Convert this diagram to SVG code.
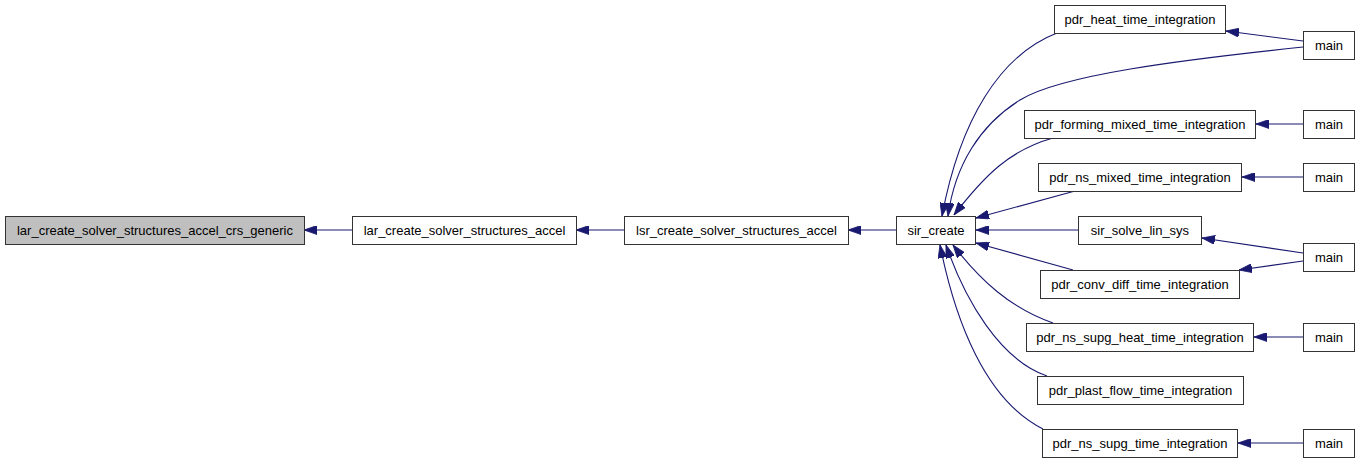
<svg xmlns="http://www.w3.org/2000/svg" width="1360" height="464" viewBox="0 0 1360 464">
<style>
.node rect{fill:#ffffff;stroke:#333333;stroke-width:1}
.node.hl rect{fill:#bfbfbf}
.node text{font-family:"Liberation Sans",Arial,Helvetica,sans-serif;font-size:13px;fill:#000000;text-anchor:middle}
.edges path{fill:none;stroke:#191970;stroke-width:1.1;marker-end:url(#arr)}
</style>
<defs>
<marker id="arr" viewBox="0 0 13 9" refX="13" refY="4.5" markerWidth="13" markerHeight="9" markerUnits="userSpaceOnUse" orient="auto">
<polygon points="0,0 13,4.5 0,9" fill="#191970" stroke="#191970" stroke-width="0.8"/>
</marker>
</defs>
<rect width="1360" height="464" fill="#ffffff"/>
<g class="edges" id="edges">
<path d="M352,230 L304,230"/>
<path d="M624,230 L576,230"/>
<path d="M896,230 L848,230"/>
<path d="M1057,33 C1000,55 960,120 942,216"/>
<path d="M1303,47 C1180,60 1060,75 1020,100 C980,125 955,165 948,216"/>
<path d="M1053,138 C1010,150 985,175 954,215"/>
<path d="M1075,191 L976,218"/>
<path d="M1078,230 L976,230"/>
<path d="M1073,270 L976,243"/>
<path d="M1053,323 C1010,308 980,280 953,245"/>
<path d="M1047,376 C1000,360 965,300 946,245"/>
<path d="M1043,429 C985,400 955,320 940,245"/>
<path d="M1303,41 L1226,31"/>
<path d="M1303,124 L1256,124"/>
<path d="M1303,177 L1242,177"/>
<path d="M1303,253 L1202,238"/>
<path d="M1303,261 L1239,270"/>
<path d="M1303,337 L1254,337"/>
<path d="M1303,443 L1238,443"/>
</g>
<g id="n0" class="node hl"><rect x="5.5" y="216.5" width="299" height="28"/><text x="155" y="235">lar_create_solver_structures_accel_crs_generic</text></g>
<g id="n1" class="node"><rect x="352.5" y="216.5" width="224" height="28"/><text x="464.5" y="235">lar_create_solver_structures_accel</text></g>
<g id="n2" class="node"><rect x="624.5" y="216.5" width="224" height="28"/><text x="736.5" y="235">lsr_create_solver_structures_accel</text></g>
<g id="n3" class="node"><rect x="896.5" y="216.5" width="79" height="28"/><text x="936" y="235">sir_create</text></g>
<g id="n4" class="node"><rect x="1054.5" y="5.5" width="171" height="28"/><text x="1140" y="24">pdr_heat_time_integration</text></g>
<g id="n5" class="node"><rect x="1303.5" y="31.5" width="51" height="28"/><text x="1329" y="50">main</text></g>
<g id="n6" class="node"><rect x="1024.5" y="110.5" width="231" height="28"/><text x="1140" y="129">pdr_forming_mixed_time_integration</text></g>
<g id="n7" class="node"><rect x="1303.5" y="110.5" width="51" height="28"/><text x="1329" y="129">main</text></g>
<g id="n8" class="node"><rect x="1038.5" y="163.5" width="203" height="28"/><text x="1140" y="182">pdr_ns_mixed_time_integration</text></g>
<g id="n9" class="node"><rect x="1303.5" y="163.5" width="51" height="28"/><text x="1329" y="182">main</text></g>
<g id="n10" class="node"><rect x="1078.5" y="216.5" width="123" height="28"/><text x="1140" y="235">sir_solve_lin_sys</text></g>
<g id="n11" class="node"><rect x="1303.5" y="243.5" width="51" height="28"/><text x="1329" y="262">main</text></g>
<g id="n12" class="node"><rect x="1040.5" y="270.5" width="199" height="28"/><text x="1140" y="289">pdr_conv_diff_time_integration</text></g>
<g id="n13" class="node"><rect x="1026.5" y="323.5" width="227" height="28"/><text x="1140" y="342">pdr_ns_supg_heat_time_integration</text></g>
<g id="n14" class="node"><rect x="1303.5" y="323.5" width="51" height="28"/><text x="1329" y="342">main</text></g>
<g id="n15" class="node"><rect x="1037.5" y="376.5" width="206" height="28"/><text x="1140.5" y="395">pdr_plast_flow_time_integration</text></g>
<g id="n16" class="node"><rect x="1042.5" y="429.5" width="195" height="28"/><text x="1140" y="448">pdr_ns_supg_time_integration</text></g>
<g id="n17" class="node"><rect x="1303.5" y="429.5" width="51" height="28"/><text x="1329" y="448">main</text></g>
</svg>
